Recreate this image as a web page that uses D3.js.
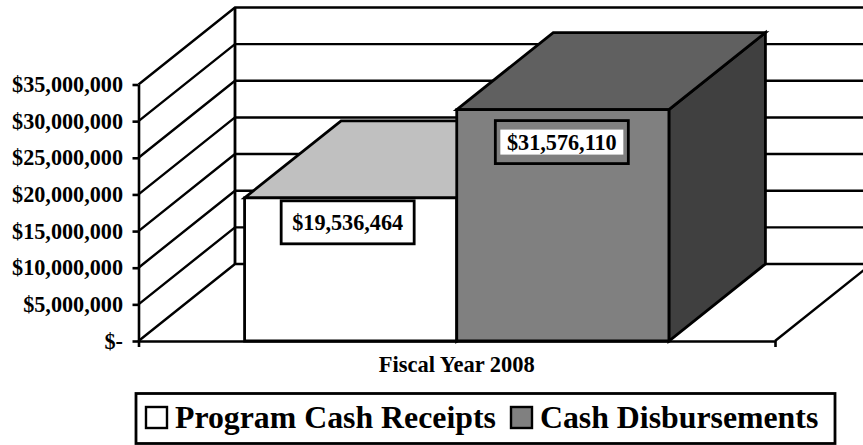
<!DOCTYPE html>
<html>
<head>
<meta charset="utf-8">
<script src="https://cdn.jsdelivr.net/npm/d3@7"></script>
<style>
    html, body { margin: 0; padding: 0; background: #fff; }
    svg { display: block; }
    text { font-family: "Liberation Serif", serif; font-weight: bold; fill: #000; }
</style>
</head>
<body>
<svg width="863" height="445"></svg>
<script>
    const categories = ['Fiscal Year 2008'];
    const seriesNames = ['Program Cash Receipts', 'Cash Disbursements'];
    const seriesValues = [19536464, 31576110];
    const valueLabels = ['$19,536,464', '$31,576,110'];
    const tickValues = [0, 5000000, 10000000, 15000000, 20000000, 25000000, 30000000, 35000000];
    const tickLabels = ['$-', '$5,000,000', '$10,000,000', '$15,000,000', '$20,000,000', '$25,000,000', '$30,000,000', '$35,000,000'];
    const frontColors = ['#ffffff', '#808080'];
    const topColors = ['#c0c0c0', '#606060'];
    const sideColors = ['#c0c0c0', '#404040'];

    const svg = d3.select('svg');

    // depth of the fake 3d box
    const depthX = 96.5, depthY = -77;

    const y = d3.scaleLinear().domain([0, 35000000]).range([341, 84.5]);
    const x0 = d3.scaleBand().domain(categories).range([138.5, 775]);
    const x1 = d3.scaleBand().domain(seriesNames).range([138.5, 775]).paddingInner(0).paddingOuter(0.5);

    const line = d3.line();
    const back = p => [p[0] + depthX, p[1] + depthY];
    const left = x0.range()[0], right = x0.range()[1];

    // walls and floor
    const walls = svg.append('g').attr('fill', 'none').attr('stroke', '#000').attr('stroke-width', 2.4);
    tickValues.forEach(v => {
        const start = [left, y(v)];
        walls.append('path').attr('d', line([start, back(start), [right + depthX, y(v) + depthY]]));
    });
    walls.append('path').attr('stroke-width', 2.8)
        .attr('d', line([[left + depthX, y(0) + depthY], [left + depthX, y(35000000) + depthY]]));
    walls.append('path').attr('d', line([[right, y(0)], back([right, y(0)])]));

    // boxes, back to front
    seriesNames.forEach((name, i) => {
        const xa = x1(name), xb = xa + x1.bandwidth();
        const yTop = y(seriesValues[i]), yBase = y(0);
        const g = svg.append('g').attr('stroke', '#000').attr('stroke-width', 2.8).attr('stroke-linejoin', 'miter');
        g.append('path').attr('fill', sideColors[i])
            .attr('d', line([[xb, yTop], back([xb, yTop]), back([xb, yBase]), [xb, yBase]]) + 'Z');
        g.append('path').attr('fill', topColors[i])
            .attr('d', line([[xa, yTop], back([xa, yTop]), back([xb, yTop]), [xb, yTop]]) + 'Z');
        g.append('path').attr('fill', frontColors[i])
            .attr('d', line([[xa, yTop], [xb, yTop], [xb, yBase], [xa, yBase]]) + 'Z');

        // value label
        const cx = (xa + xb) / 2 + (i === 0 ? -3 : -1);
        const by = yTop + 3 + (i === 1 ? 8 : 0);
        svg.append('rect').attr('x', cx - 61.5).attr('y', by + 9).attr('width', 123).attr('height', 25).attr('fill', '#fff');
        svg.append('rect').attr('x', cx - 66.5).attr('y', by).attr('width', 133).attr('height', 43)
            .attr('fill', 'none').attr('stroke', '#000').attr('stroke-width', 2.8);
        svg.append('text').attr('x', cx).attr('y', by + 29.5).attr('text-anchor', 'middle')
            .style('font-size', '22.2px').text(valueLabels[i]);
    });

    // axes
    const yAxis = d3.axisLeft(y).tickValues(tickValues)
        .tickFormat((d, i) => tickLabels[i]).tickSizeInner(6).tickSizeOuter(0).tickPadding(9.5);
    const yG = svg.append('g').attr('transform', `translate(${left},0)`).call(yAxis);
    yG.selectAll('text').style('font-size', '22.2px').attr('font-family', null);
    yG.selectAll('path, line').attr('stroke', '#000').attr('stroke-width', 2.6);

    const xAxis = d3.axisBottom(x0).tickSizeInner(0).tickSizeOuter(6).tickPadding(15);
    const xG = svg.append('g').attr('transform', `translate(0,${y(0)})`).call(xAxis);
    xG.selectAll('text').style('font-size', '22.5px').attr('font-family', null);
    xG.selectAll('path').attr('stroke', '#000').attr('stroke-width', 2.6);

    // legend
    const legendX = [146, 511];
    svg.append('rect').attr('x', 136).attr('y', 393.5).attr('width', 699).attr('height', 50)
        .attr('fill', '#fff').attr('stroke', '#000').attr('stroke-width', 2.8);
    seriesNames.forEach((name, i) => {
        svg.append('rect').attr('x', legendX[i]).attr('y', 407).attr('width', 21).attr('height', 21)
            .attr('fill', frontColors[i]).attr('stroke', '#000').attr('stroke-width', 2.4);
        svg.append('text').attr('x', legendX[i] + 29).attr('y', 428)
            .style('font-size', '31.8px').text(name);
    });
</script>
</body>
</html>
